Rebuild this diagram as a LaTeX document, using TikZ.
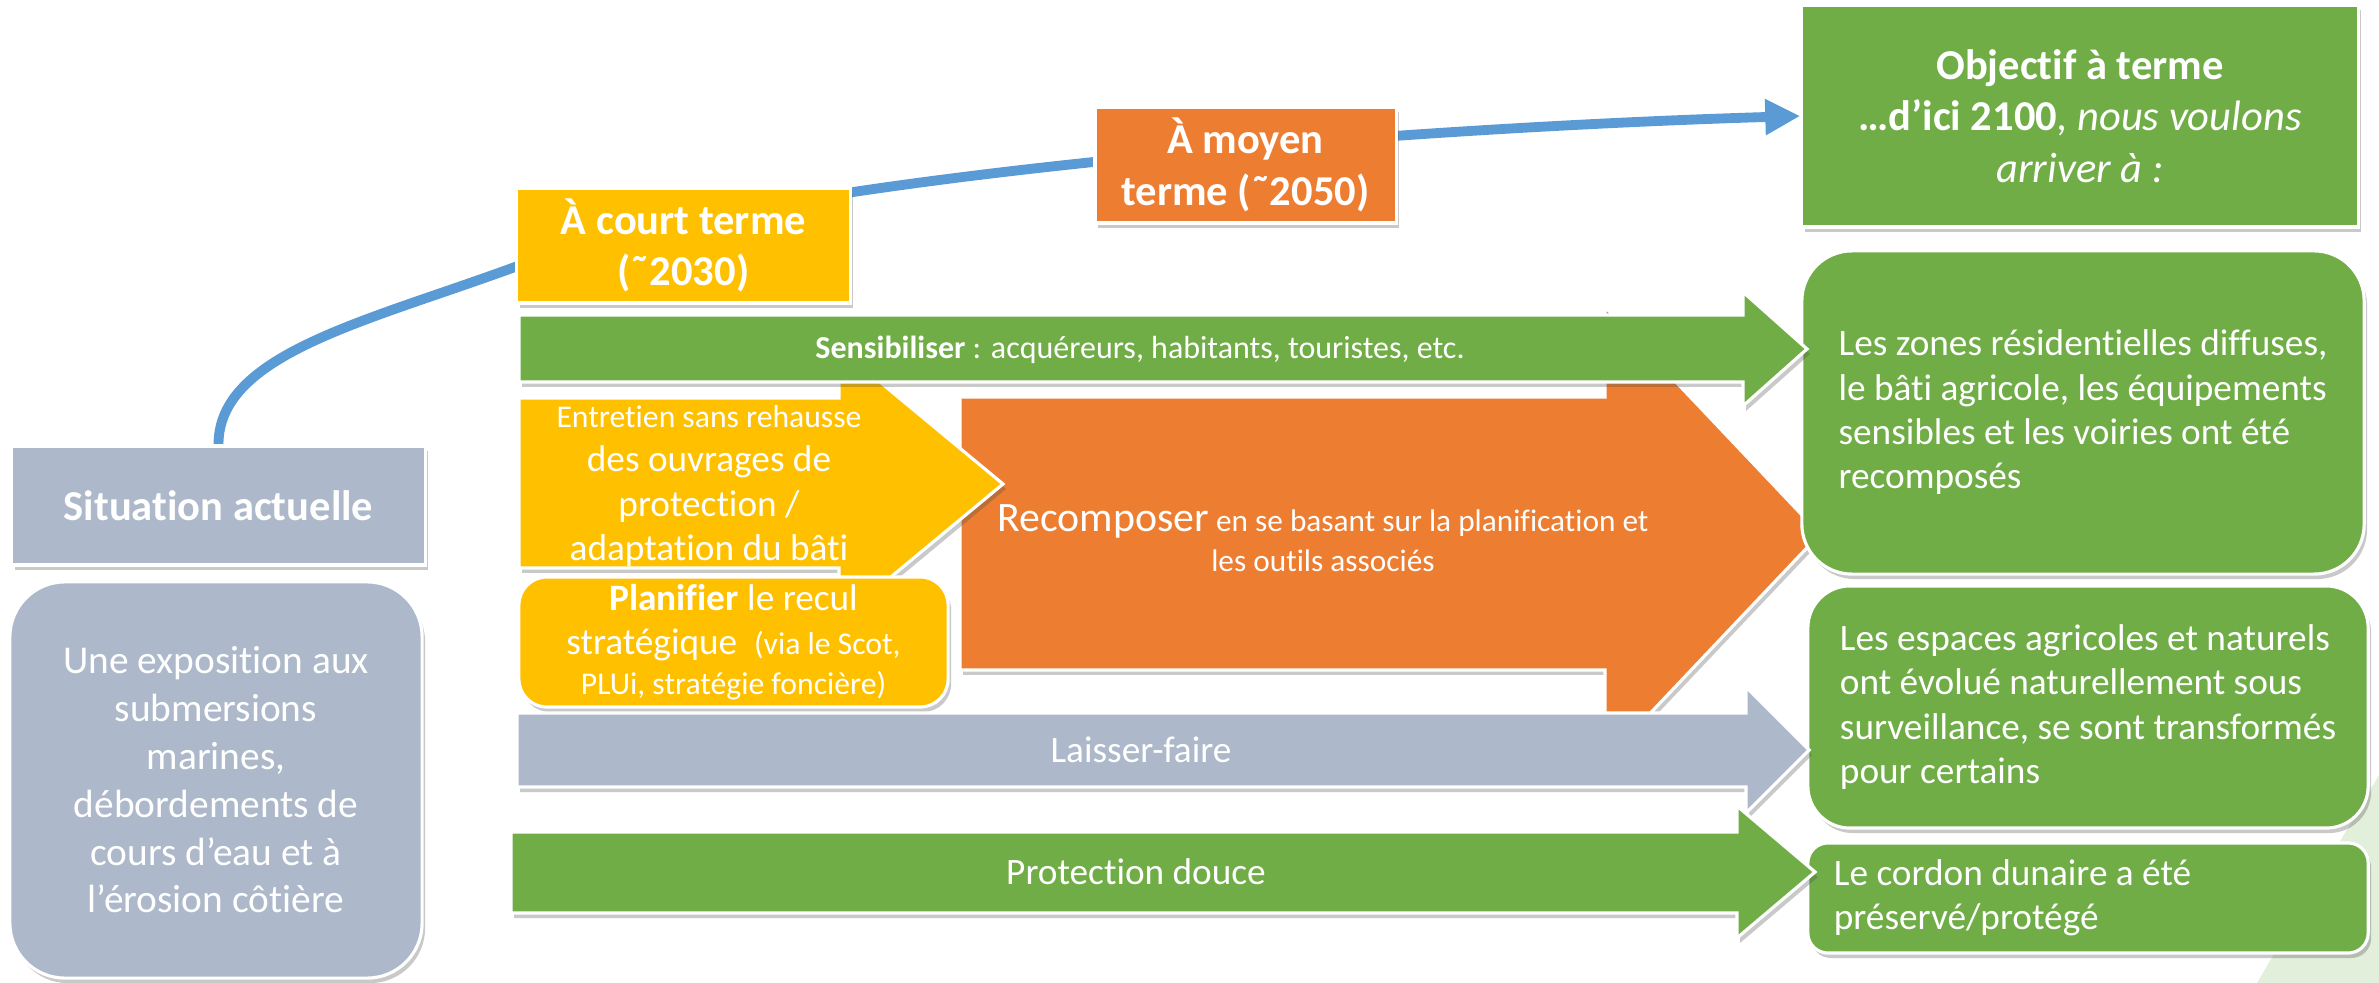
\documentclass[tikz,border=0pt]{standalone}
\usepackage{fontspec}
\setmainfont{Carlito}[RawFeature={-liga;-clig;-calt;-dlig}]
\usetikzlibrary{arrows.meta, positioning, shadows, backgrounds}
\definecolor{situgray}{RGB}{173,185,202}
\definecolor{courtyellow}{RGB}{255,192,0}
\definecolor{moyenorange}{RGB}{237,125,49}
\definecolor{goalgreen}{RGB}{112,173,71}
\definecolor{lineblue}{RGB}{91,155,213}
\definecolor{palegreen}{RGB}{226,239,218}

\begin{document}
\begin{tikzpicture}[x=0.01cm, y=-0.01cm,
    softshadow/.style={drop shadow={shadow xshift=0.3mm, shadow yshift=-0.5mm, opacity=0.3, fill=black!70}},
    box/.style={rectangle, draw=white, line width=0.9pt, fill=#1, text=white, align=center, inner sep=0pt, softshadow},
    goalbox/.style={box=goalgreen, rounded corners=#1, align=left, bodyfont},
    flow/.style={draw=white, line width=0.9pt, line join=miter, fill=#1, softshadow},
    flowtext/.style={text=white, align=center, inner sep=0pt},
    timeline/.style={draw=lineblue, line width=2.8pt, -{Triangle[length=0.35cm, width=0.34cm]}},
    headfont/.style={font=\fontsize{12.1pt}{14.6pt}\selectfont\bfseries},
    bodyfont/.style={font=\fontsize{10.6pt}{12.6pt}\selectfont}
]
\useasboundingbox (0,0) rectangle (2379,983);

% Left column: present situation
\node[box=situgray, headfont, minimum width=4.13cm, minimum height=1.19cm] (sit) at (218.5,505.5) {Situation actuelle};
\node[box=situgray, rounded corners=0.55cm, font=\fontsize{11.2pt}{13.6pt}\selectfont, minimum width=4.12cm, minimum height=3.96cm] (expo) at (216,780) {Une exposition aux\\submersions\\marines,\\débordements de\\cours d’eau et à\\l’érosion côtière};

% Time steps
\node[box=courtyellow, headfont, minimum width=3.33cm, minimum height=1.15cm] (court) at (683.5,245.5) {À court terme\\(˜2030)};
\node[box=moyenorange, headfont, minimum width=3.01cm, minimum height=1.16cm] (moyen) at (1245.5,165) {À moyen\\terme (˜2050)};
\node[box=goalgreen, headfont, minimum width=5.56cm, minimum height=2.22cm] (goal) at (2080,116) {Objectif à terme\\…d’ici 2100{\mdseries\itshape, nous voulons}\\{\mdseries\itshape arriver à :}};

% Recomposition arrow
\path[flow=moyenorange] (960,397) -- (1605,397) -- (1605,307) -- (1820,534) -- (1605,761) -- (1605,670) -- (960,670) -- cycle;
\node[flowtext, font=\fontsize{8.9pt}{11.4pt}\selectfont] (recomp) at (1323,538) {{\fontsize{11.9pt}{14pt}\selectfont Recomposer} en se basant sur la planification et\\les outils associés};

% Short term actions
\path[flow=courtyellow] (519,398) -- (839,398) -- (839,348) -- (1003,484) -- (839,620) -- (839,568) -- (519,568) -- cycle;
\node[flowtext, bodyfont] (entretien) at (709,486) {{\fontsize{9pt}{11pt}\selectfont Entretien sans rehausse}\\des ouvrages de\\protection /\\adaptation du bâti};
\node[box=courtyellow, rounded corners=0.28cm, bodyfont, minimum width=4.29cm, minimum height=1.30cm] (plan) at (733.5,642) {\textbf{Planifier} le recul\\stratégique\ \ {\fontsize{9pt}{11pt}\selectfont(via le Scot,}\\[-1.2pt]{\fontsize{9pt}{11pt}\selectfont PLUi, stratégie foncière)}};

% Targets
\node[goalbox=0.5cm, minimum width=5.62cm, minimum height=3.23cm] (zones) at (2083,412.5) {Les zones résidentielles diffuses,\\le bâti agricole, les équipements\\sensibles et les voiries ont été\\recomposés};
\node[goalbox=0.42cm, minimum width=5.6cm, minimum height=2.42cm] (espaces) at (2088,707) {Les espaces agricoles et naturels\\ont évolué naturellement sous\\surveillance, se sont transformés\\pour certains};
\node[goalbox=0.2cm, minimum width=5.6cm, minimum height=1.10cm, text width=5.08cm, align=flush left] (cordon) at (2088,898) {Le cordon dunaire a été\\préservé/protégé};

% Long arrows
\path[flow=goalgreen] (519,315) -- (1743,315) -- (1743,292) -- (1807,349) -- (1743,406) -- (1743,382) -- (519,382) -- cycle;
\node[flowtext, font=\fontsize{9.1pt}{11pt}\selectfont] (sens) at (1140,350) {\textbf{Sensibiliser} : acquéreurs, habitants, touristes, etc.};
\path[flow=situgray] (517,713) -- (1746,713) -- (1746,687) -- (1809,750) -- (1746,813) -- (1746,787) -- (517,787) -- cycle;
\node[flowtext, bodyfont] (laisser) at (1141,750) {Laisser-faire};
\path[flow=goalgreen] (511,832) -- (1737,832) -- (1737,806) -- (1815,872) -- (1737,938) -- (1737,913) -- (511,913) -- cycle;
\node[flowtext, bodyfont] (protect) at (1136,872) {Protection douce};

% Timeline behind the boxes
\begin{scope}[on background layer]
\fill[palegreen] (2257,983) -- (2379,775) -- (2379,983) -- cycle;
\coordinate (bend) at (515,267);
\draw[timeline] (sit.north) .. controls +(0,-90) and +(-150,55) .. (bend) .. controls +(250,-92) and +(-400,12) .. (goal.west);
\end{scope}

\end{tikzpicture}
\end{document}
